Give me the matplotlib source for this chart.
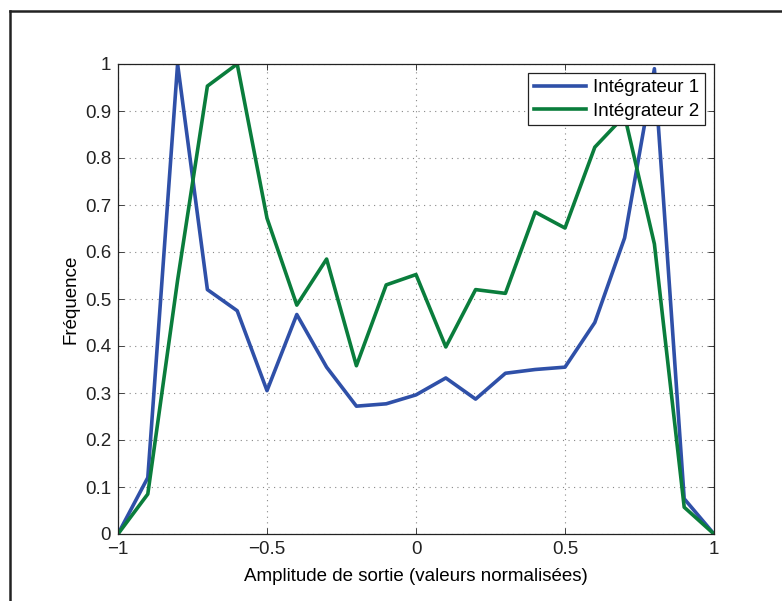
import matplotlib
matplotlib.use("Agg")
import matplotlib.pyplot as plt
from matplotlib.lines import Line2D

plt.rcParams['font.family'] = ['Liberation Sans', 'DejaVu Sans']

x = [-1.0, -0.9, -0.8, -0.7, -0.6, -0.5, -0.4, -0.3, -0.2, -0.1, 0.0,
     0.1, 0.2, 0.3, 0.4, 0.5, 0.6, 0.7, 0.8, 0.9, 1.0]
integ1 = [0.0, 0.12, 1.0, 0.52, 0.475, 0.305, 0.467, 0.355, 0.272, 0.277, 0.296,
          0.332, 0.287, 0.342, 0.350, 0.355, 0.450, 0.630, 0.99, 0.075, 0.0]
integ2 = [0.0, 0.085, 0.54, 0.953, 1.0, 0.672, 0.487, 0.585, 0.358, 0.530, 0.552,
          0.398, 0.520, 0.512, 0.685, 0.651, 0.823, 0.890, 0.617, 0.057, 0.0]
labels = ["Intégrateur 1", "Intégrateur 2"]
xticks = [-1, -0.5, 0, 0.5, 1]
xticklabels = ["\u22121", "\u22120.5", "0", "0.5", "1"]
yticks = [0, 0.1, 0.2, 0.3, 0.4, 0.5, 0.6, 0.7, 0.8, 0.9, 1]
yticklabels = ["0", "0.1", "0.2", "0.3", "0.4", "0.5", "0.6", "0.7", "0.8", "0.9", "1"]

FS = 13.5

fig = plt.figure(figsize=(7.82, 6.01), dpi=100)
ax = fig.add_axes([118/782, 67/601, 596/782, 470/601])

ax.plot(x, integ1, color='#2F50A8', lw=2.6, label=labels[0])
ax.plot(x, integ2, color='#0A7D3C', lw=2.6, label=labels[1])

ax.set_xlim(-1, 1)
ax.set_ylim(0, 1)
ax.set_xticks(xticks)
ax.set_xticklabels(xticklabels)
ax.set_yticks(yticks)
ax.set_yticklabels(yticklabels)
ax.tick_params(direction='in', top=True, right=True, labelsize=FS, length=4, width=0.6, colors='#222222')
ax.tick_params(axis='x', pad=5)
ax.tick_params(axis='y', pad=5)
ax.grid(True, linestyle=(0, (1, 4)), color='#888888', linewidth=0.8)
for s in ax.spines.values():
    s.set_color('#222222')
    s.set_linewidth(0.9)

ax.set_xlabel("Amplitude de sortie (valeurs normalisées)", fontsize=FS, labelpad=7)
ax.set_ylabel("Fréquence", fontsize=FS, labelpad=4)

leg = ax.legend(loc='upper right', fontsize=FS, fancybox=False, framealpha=1,
                edgecolor='#222222', borderaxespad=0.5, handlelength=2.8,
                handletextpad=0.35, borderpad=0.3, labelspacing=0.35)
leg.get_frame().set_linewidth(0.9)

# figure frame (top and left edges)
fig.add_artist(Line2D([10/782, 1.0], [1 - 11/601, 1 - 11/601], transform=fig.transFigure,
                      color='#222222', lw=1.8))
fig.add_artist(Line2D([10/782, 10/782], [0.0, 1 - 11/601], transform=fig.transFigure,
                      color='#222222', lw=1.8))

fig.savefig("out.png", dpi=100, facecolor='white')
